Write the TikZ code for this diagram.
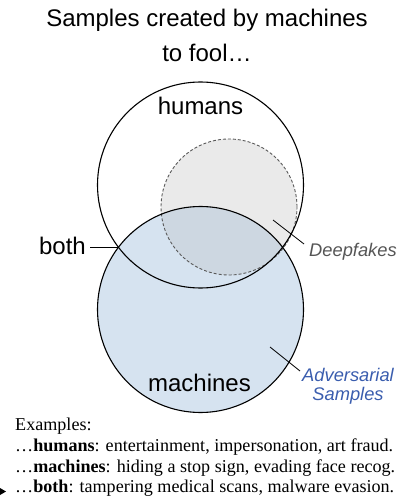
\documentclass[tikz,border=0pt]{standalone}
\usepackage{fontspec}
\setmainfont{Liberation Serif}
\newfontfamily\arialf{Liberation Sans}
\definecolor{advblue}{HTML}{D6E3F0}
\definecolor{dfgray}{HTML}{EAEAEA}
\definecolor{ovl}{HTML}{CDD7E1}
\definecolor{dftext}{HTML}{555555}
\definecolor{advtext}{HTML}{3A5DAE}
\begin{document}
\begin{tikzpicture}[x=1pt,y=-1pt,
  circ/.style={draw=black,line width=1.1pt},
  dfcirc/.style={draw=black!65,line width=0.9pt,dash pattern=on 3pt off 2pt},
  leader/.style={draw=black,line width=0.8pt},
  sans24/.style={inner sep=0pt,font=\arialf\fontsize{24}{28}\selectfont},
  itlab/.style={inner sep=0pt,align=center,font=\arialf\itshape\fontsize{18.3}{19}\selectfont},
  ex/.style={inner sep=0pt,anchor=base west,font=\fontsize{18.1}{21}\selectfont}]
\useasboundingbox (0,0) rectangle (410,502);
\coordinate (H) at (200.5,185);
\coordinate (M) at (200.5,309.5);
\coordinate (D) at (229,207);
% fills
\fill[dfgray] (D) circle[radius=68pt];
\fill[advblue] (M) circle[radius=103pt];
\begin{scope}
  \clip (M) circle[radius=103pt];
  \fill[ovl] (D) circle[radius=68pt];
\end{scope}
% outlines
\draw[dfcirc] (D) circle[radius=68pt];
\draw[circ] (H) circle[radius=103pt];
\draw[circ] (M) circle[radius=103pt];
% title
\node[sans24,anchor=base] (title1) at (207,27) {Samples created by machines};
\node[sans24,anchor=base] (title2) at (207,62) {to fool…};
% circle labels
\node[sans24,anchor=base] (humans) at (200.5,115) {humans};
\node[sans24,anchor=base] (machines) at (199.5,391) {machines};
\node[sans24,anchor=base east] (both) at (86,254) {both};
\coordinate (bothpt) at (118.4,247);
\draw[leader] (both.east |- bothpt) ++(4,0) coordinate (bothstart) (bothstart) -- (bothpt);
% Deepfakes
\node[itlab,text=dftext,anchor=base west] (deepfakes) at (309,256) {Deepfakes};
\coordinate (dfin) at (273,220);
\coordinate (dfout) at (304,244);
\draw[leader] (dfin) -- (dfout);
% Adversarial
\node[itlab,text=advtext,anchor=north] (adv) at (348,368) {Adversarial\\Samples};
\coordinate (advin) at (270,347);
\coordinate (advout) at (300,371);
\draw[leader] (advin) -- (advout);
% examples
\node[ex] (ex0) at (15,430) {Examples:};
\node[ex] (ex1) at (15,451.5) {…\textbf{humans}: entertainment, impersonation, art fraud.};
\node[ex] (ex2) at (15,472) {…\textbf{machines}: hiding a stop sign, evading face recog.};
\node[ex] (ex3) at (15,492.5) {…\textbf{both}: tampering medical scans, malware evasion.};
\fill (0,488) -- (6,491.5) -- (0,495) -- cycle;
\end{tikzpicture}
\end{document}
